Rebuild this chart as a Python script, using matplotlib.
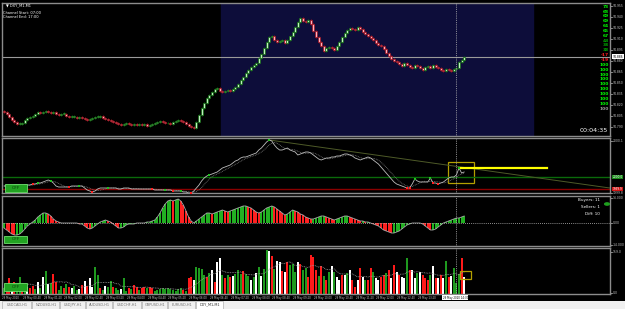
import matplotlib
matplotlib.use("Agg")
import matplotlib.pyplot as plt
import matplotlib.transforms as mtransforms
from matplotlib.patches import Rectangle
import numpy as np
import pandas as pd

W, H = 625, 309

# ---------------- data ----------------
first_open = 94.812
closes = [
    94.810, 94.808, 94.804, 94.800, 94.797, 94.794, 94.794, 94.795, 94.800, 94.802,
    94.804, 94.805, 94.808, 94.810, 94.809, 94.810, 94.812, 94.810, 94.809, 94.810,
    94.808, 94.806, 94.808, 94.808, 94.805, 94.804, 94.804, 94.804, 94.802, 94.804,
    94.802, 94.801, 94.800, 94.801, 94.802, 94.804, 94.804, 94.805, 94.802, 94.801,
    94.800, 94.798, 94.797, 94.795, 94.794, 94.793, 94.794, 94.795, 94.794, 94.793,
    94.794, 94.793, 94.794, 94.793, 94.794, 94.791, 94.793, 94.794, 94.795, 94.797,
    94.798, 94.797, 94.795, 94.795, 94.794, 94.797, 94.798, 94.800, 94.798, 94.797,
    94.794, 94.791, 94.790, 94.789, 94.797, 94.806, 94.816, 94.823, 94.830, 94.834,
    94.838, 94.842, 94.843, 94.839, 94.838, 94.839, 94.840, 94.839, 94.842, 94.845,
    94.849, 94.854, 94.858, 94.864, 94.868, 94.872, 94.875, 94.877, 94.884, 94.890,
    94.898, 94.906, 94.913, 94.914, 94.909, 94.906, 94.907, 94.909, 94.905, 94.909,
    94.914, 94.920, 94.926, 94.933, 94.939, 94.935, 94.933, 94.936, 94.930, 94.921,
    94.913, 94.906, 94.900, 94.894, 94.898, 94.899, 94.898, 94.895, 94.900, 94.906,
    94.913, 94.918, 94.922, 94.925, 94.924, 94.922, 94.926, 94.924, 94.920, 94.917,
    94.914, 94.911, 94.909, 94.905, 94.902, 94.900, 94.896, 94.891, 94.887, 94.883,
    94.880, 94.879, 94.876, 94.873, 94.877, 94.875, 94.872, 94.870, 94.875, 94.873,
    94.870, 94.868, 94.872, 94.873, 94.870, 94.875, 94.872, 94.870, 94.868, 94.866,
    94.869, 94.868, 94.866, 94.869, 94.870, 94.879, 94.881, 94.886,
]

osc = [
    14, 14, 14, 14, 16, 16, 16, 14, 16, 16,
    16, 18, 18, 20, 20, 22, 24, 26, 24, 20,
    14, 12, 12, 12, 12, 12, 14, 14, 14, 14,
    14, 10, 6, 4, 2, 4, 8, 10, 10, 10,
    10, 10, 10, 10, 8, 8, 10, 10, 10, 8,
    8, 8, 8, 8, 8, 8, 8, 8, 6, 6,
    6, 6, 6, 6, 6, 4, 4, 4, 4, 2,
    2, 0, 0, 4, 10, 16, 24, 30, 34, 36,
    38, 40, 42, 46, 50, 52, 54, 56, 60, 64,
    66, 70, 72, 72, 74, 76, 78, 80, 86, 90,
    96, 102, 106, 104, 96, 90, 86, 86, 88, 90,
    86, 84, 82, 76, 78, 80, 82, 82, 80, 76,
    72, 68, 66, 68, 70, 70, 72, 72, 74, 74,
    76, 78, 78, 76, 74, 70, 68, 66, 68, 70,
    72, 70, 66, 62, 58, 52, 46, 40, 34, 28,
    22, 18, 16, 14, 12, 10, 10, 18, 28, 24,
    22, 22, 22, 22, 30, 20, 20, 18, 20, 22,
    26, 30, 32, 32, 36, 50, 40, 42,
]
osc_green_dots = [13, 18, 29, 40, 62, 68, 79, 102, 158, 164, 175]
osc_red_dots = [11, 25, 34, 57, 65, 72, 155, 156, 165, 167]
osc_upper_level = 32
osc_lower_level = 8
trend_start = (102, 106)
trend_end = (233, 10)

hist = [
    -5, -7, -9, -11, -12, -12, -11, -9, -6, -3,
    -1, 1, 3, 6, 8, 10, 10, 9, 7, 4,
    2, 1, 0, 0, 0, 0, 0, 0, 0, -1,
    -1, -3, -5, -6, -5, -3, -1, 1, 2, 3,
    2, 1, -1, -3, -5, -5, -4, -2, -1, -1,
    -1, 0, 0, 0, 0, 1, 1, 2, 3, 6,
    10, 15, 19, 22, 23, 22, 23, 24, 22, 18,
    12, 6, 2, 0, 2, 4, 6, 8, 10, 10,
    9, 10, 11, 12, 13, 12, 11, 12, 13, 14,
    15, 16, 17, 17, 16, 15, 13, 11, 10, 11,
    13, 15, 16, 17, 16, 14, 12, 10, 8, 9,
    11, 13, 12, 11, 9, 8, 6, 5, 4, 4,
    5, 6, 7, 7, 6, 5, 4, 3, 4, 5,
    6, 7, 7, 6, 5, 4, 3, 2, 2, 1,
    1, 0, -1, -2, -3, -5, -7, -8, -9, -10,
    -10, -9, -8, -6, -4, -2, -1, 0, 0, 0,
    0, -1, -3, -5, -7, -7, -6, -4, -2, 0,
    1, 2, 3, 4, 5, 5, 6, 7,
]

volumes = [
    24, 40, 64, 32, 48, 28, 68, 36, 24, 28,
    24, 32, 20, 48, 24, 68, 92, 40, 44, 80,
    48, 16, 32, 24, 40, 28, 24, 32, 16, 20,
    36, 52, 32, 64, 28, 108, 76, 24, 16, 32,
    28, 52, 28, 24, 16, 20, 64, 12, 24, 20,
    36, 28, 16, 24, 28, 24, 28, 24, 12, 16,
    20, 24, 20, 24, 20, 16, 12, 20, 24, 16,
    12, 64, 68, 56, 108, 104, 100, 76, 68, 84,
    96, 48, 128, 144, 76, 64, 76, 68, 72, 80,
    96, 80, 92, 80, 72, 56, 68, 84, 108, 72,
    100, 176, 172, 152, 100, 132, 128, 92, 88, 128,
    116, 120, 88, 128, 120, 96, 104, 68, 156, 148,
    96, 72, 112, 72, 56, 88, 112, 88, 68, 56,
    76, 76, 84, 96, 56, 28, 56, 104, 68, 56,
    56, 104, 88, 64, 56, 68, 76, 84, 96, 64,
    116, 88, 76, 68, 64, 144, 96, 96, 64, 84,
    88, 76, 64, 56, 76, 112, 64, 64, 76, 64,
    132, 68, 72, 104, 44, 80, 144, 68,
]
vol_colors = (
    "grrwrggrgw" "rrgwgwgwgr" "rggrgrwggw" "rwrwwggrgw" "ggrggwggrg"
    "rrgrrgrrgg" "gggggggggr" "grrwggggrg" "wrwwgrgrwg" "ggrggwgwgw"
    "ggwrgwwrwr" "gggwrggrrr" "rgrgrgwgww" "rwgwrrwrwg" "rrgwwrrgrw"
    "rwrwwgrwwg" "wrrrgwrwrw" "grwgggrw"
)

price_ticks = [94.955, 94.940, 94.925, 94.910, 94.895, 94.880, 94.865,
               94.850, 94.835, 94.820, 94.805, 94.790]
strength_values = ["73", "68", "69", "69", "64", "65", "67", "43", "38", "33",
                   "-17", "-19", "100", "100", "100", "100", "100", "100",
                   "100", "100", "100", "100"]
strength_kinds = "bbbbbbbddd" "rr" "bbbbbbbbb" "x"
buyers, sellers = 11, 1

start_time = "2020-05-29 00:00"
bar_minutes = 5
session_start, session_end = 84, 204
cross_index = 174
timer_text = "00:04:35"
tabs = ["USDCAD,H1", "NZDUSD,H1", "USDJPY,H1", "AUDUSD,H1", "USDCHF,H1",
        "GBPUSD,H1", "EURUSD,H1", "DXY_M1,M1"]

# ---------------- layout helpers ----------------
fig = plt.figure(figsize=(W / 100, H / 100), dpi=100, facecolor="black")
BAR_PX, X0_PX, LEFT, RIGHT = 2.6, 4, 2, 610
XLIM = ((LEFT - X0_PX) / BAR_PX, (RIGHT - X0_PX) / BAR_PX)
GRAY = "#8c8c8c"
LBL = "#c8c8c8"


def add_ax(y0, y1):
    ax = fig.add_axes([LEFT / W, 1 - y1 / H, (RIGHT - LEFT) / W, (y1 - y0) / H])
    ax.set_facecolor("black")
    ax.set_xticks([])
    ax.set_yticks([])
    ax.set_xlim(*XLIM)
    for s in ax.spines.values():
        s.set_color(GRAY)
        s.set_linewidth(1.0)
    return ax


def ftext(x, y, s, **kw):
    kw.setdefault("fontsize", 2.8)
    kw.setdefault("color", LBL)
    kw.setdefault("va", "center")
    fig.text(x / W, 1 - y / H, s, **kw)


def frect(x0, y0, x1, y1, **kw):
    r = Rectangle((x0 / W, 1 - y1 / H), (x1 - x0) / W, (y1 - y0) / H,
                  transform=fig.transFigure, **kw)
    fig.add_artist(r)
    return r


def right_label(ax, val, txt, **kw):
    tr = mtransforms.blended_transform_factory(ax.transAxes, ax.transData)
    kw.setdefault("fontsize", 2.2)
    kw.setdefault("color", LBL)
    ax.text(1.005, val, txt, transform=tr, va="center", ha="left",
            clip_on=False, **kw)
    ax.plot([1.0, 1.003], [val, val], transform=tr, color=LBL, lw=0.5,
            clip_on=False)


n = len(closes)
xs = np.arange(n)
opens = [first_open] + closes[:-1]

# ---------------- main price panel ----------------
ax1 = add_ax(3, 136)
ax1.set_ylim(94.7777, 94.9591)
ax1.axvspan(session_start - 0.5, session_end - 0.5, color="#0d0d3a", zorder=0)
ups = [c >= o for o, c in zip(opens, closes)]
bottoms = [min(o, c) for o, c in zip(opens, closes)]
heights = [max(abs(c - o), 0.0009) for o, c in zip(opens, closes)]
WICK = 0.0014
ax1.vlines(xs, [b - WICK for b in bottoms], [b + h + WICK for b, h in zip(bottoms, heights)],
           colors=["#0e6a0e" if u else "#a3101e" for u in ups], lw=0.6, zorder=2)
ax1.bar(xs, heights, bottom=bottoms, width=0.8,
        color=["#bfeebf" if u else "#ffb3bd" for u in ups],
        edgecolor=["#0e6a0e" if u else "#a3101e" for u in ups], linewidth=0.5, zorder=3)
ax1.axhline(closes[-1], color="#9a9a9a", lw=0.8, zorder=1)
for p in price_ticks:
    right_label(ax1, p, f"{p:.3f}")
tr1 = mtransforms.blended_transform_factory(ax1.transAxes, ax1.transData)
ax1.text(1.004, closes[-1], f"{closes[-1]:.3f}", transform=tr1, fontsize=2.2,
         color="black", va="center", ha="left", clip_on=False,
         bbox=dict(boxstyle="square,pad=0.15", fc="white", ec="none"))

# strength column
for k, (v, kind) in enumerate(zip(strength_values, strength_kinds)):
    col = {"b": "#00ff00", "d": "#00b400", "r": "#ff2020", "x": "#9a9a9a"}[kind]
    ftext(609, 6.7 + 4.85 * k, v, color=col, fontsize=3.2, ha="right",
          fontweight="bold")
ftext(608, 130, timer_text, color="white", fontsize=4.6, ha="right")
ftext(6, 5, "\u25bc DXY_M1,M1", color="white", fontsize=2.6)
ftext(3, 13, "Channel Start: 07:00", color="white", fontsize=2.6)
ftext(3, 17, "Channel End: 17:00", color="white", fontsize=2.6)

# ---------------- oscillator panel ----------------
ax2 = add_ax(138, 193)
ax2.set_ylim(0, 110)
ax2.axhline(osc_upper_level, color="#0a6a0a", lw=1.0)
ax2.axhline(osc_lower_level, color="#8b0000", lw=1.0)
ax2.plot([trend_start[0], trend_end[0]], [trend_start[1], trend_end[1]],
         color="#4e5a28", lw=0.7)
sig = pd.Series(osc).rolling(5, min_periods=1).mean()
ax2.plot(xs, sig, color="#7a7a7a", lw=0.6, ls=(0, (1, 1)))
ax2.plot(xs, osc, color="#bdbdbd", lw=0.6)
ax2.scatter(osc_green_dots, [osc[i] for i in osc_green_dots], s=2.5, marker="s",
            color="#20c020", zorder=4, linewidths=0)
ax2.scatter(osc_red_dots, [osc[i] for i in osc_red_dots], s=2.5, marker="s",
            color="#ff2020", zorder=4, linewidths=0)
ax2.add_patch(Rectangle((170.8, 20), 10, 42, fill=False, ec="#b4a000", lw=0.9))
ax2.plot([cross_index + 1, cross_index + 35], [osc[cross_index + 1]] * 2,
         color="#ffff00", lw=1.6)
right_label(ax2, 104, "2000.1")
tr2 = mtransforms.blended_transform_factory(ax2.transAxes, ax2.transData)
for val, fc, txt in [(osc_upper_level, "#1a8a1a", "2000.0"),
                     (osc_lower_level, "#d01010", "1999.9")]:
    ax2.text(1.004, val, txt, transform=tr2, fontsize=2.1, color="white",
             va="center", ha="left", clip_on=False,
             bbox=dict(boxstyle="square,pad=0.12", fc=fc, ec="none"))
right_label(ax2, 1, "1999.8")

# ---------------- histogram panel ----------------
ax3 = add_ax(196, 246)
ax3.set_ylim(-23, 27)
hcols = ["#22b022"] + ["#22b022" if hist[i] >= hist[i - 1] else "#ff2020"
                       for i in range(1, n)]
ax3.axhline(0, color="#bdbdbd", lw=0.6, ls=(0, (1, 1.5)))
ax3.bar(xs, hist, width=0.8, color=hcols, linewidth=0)
ax3.plot(xs, hist, color="#a8a8a8", lw=0.6)
right_label(ax3, 25, "14.000")
right_label(ax3, 0, "0.00")
right_label(ax3, -21.5, "-14.000")
ftext(600, 200, f"Buyers: {buyers}", color="white", fontsize=3.0, ha="right")
ftext(600, 207, f"Sellers: {sellers}", color="white", fontsize=3.0, ha="right")
ftext(600, 214, f"Diff: {buyers - sellers}", color="white", fontsize=3.0, ha="right")
fig.add_artist(plt.Circle((607 / W, 1 - 204 / H), 2.3 / W, transform=fig.transFigure,
                          color="#1fa01f"))

# ---------------- volume panel ----------------
ax4 = add_ax(248, 294)
ax4.set_ylim(0, 184)
cmap = {"g": "#1f9a1f", "r": "#ff1a1a", "w": "#ffffff"}
ax4.bar(xs, volumes, width=0.75, color=[cmap[c] for c in vol_colors], linewidth=0)
vma = pd.Series(volumes).rolling(10, min_periods=1).mean()
ax4.plot(xs, vma, color="#9a9a9a", lw=0.6, ls=(0, (1, 1)))
ax4.add_patch(Rectangle((175.4, 60), 4.2, 32, fill=False, ec="#b4a000", lw=0.9))
right_label(ax4, 168, "159.0")
right_label(ax4, 4, "0.0")

for ax in (ax1, ax2, ax3, ax4):
    ax.axvline(cross_index, color="#b0b0b0", lw=0.6, ls=(0, (1, 1.2)), zorder=5)

# OFF buttons
for (x0, y0, x1, y1) in [(5, 184, 27, 192), (4, 236, 27, 243), (4, 283, 27, 291)]:
    frect(x0, y0, x1, y1, fc="#22a322", ec="#6fe06f", lw=0.6, zorder=10)
    ftext((x0 + x1) / 2, (y0 + y1) / 2, "OFF", color="#0b3d0b", fontsize=3.2,
          ha="center", zorder=11)

# time axis labels
times = pd.date_range(start_time, periods=n, freq=f"{bar_minutes}min")
cx = X0_PX + BAR_PX * cross_index
for i in range(0, n, 8):
    lx = X0_PX + BAR_PX * i - 2
    if lx > cx - 22:
        continue
    lab = times[i].strftime("%d %b %Y") if i == 0 else times[i].strftime("%d %b %H:%M")
    ftext(lx, 297.5, lab, fontsize=1.9, ha="left")
frect(cx - 14, 295, cx + 12, 300, fc="white", ec="none", zorder=10)
ftext(cx - 13.5, 297.5, times[cross_index].strftime("%d %b %Y %H:%M"),
      color="black", fontsize=1.9, ha="left", zorder=11)

# tab bar
frect(0, 300.5, W, H, fc="#f0f0f0", ec="none", zorder=9)
tab_edges = [2, 32, 60, 86, 113, 142, 168, 196, 224]
for k, name in enumerate(tabs):
    active = k == len(tabs) - 1
    frect(tab_edges[k], 301, tab_edges[k + 1] - 1, 308.5,
          fc="white" if active else "#f0f0f0", ec="#a0a0a0", lw=0.4, zorder=10)
    ftext((tab_edges[k] + tab_edges[k + 1]) / 2, 304.8, name,
          color="#303030" if active else "#707070", fontsize=2.5,
          ha="center", zorder=11)

fig.savefig("out.png", dpi=100, facecolor="black")
